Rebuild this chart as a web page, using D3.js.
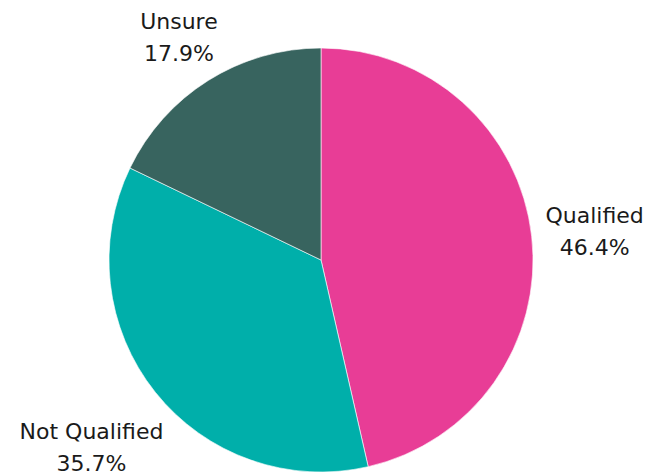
<!DOCTYPE html>
<html>
<head>
<meta charset="utf-8">
<script src="https://cdn.jsdelivr.net/npm/d3@7"></script>
<style>
  html, body { margin: 0; padding: 0; background: #ffffff; }
  svg { display: block; }
  text { font-family: "DejaVu Sans", "Noto Sans", sans-serif; }
</style>
</head>
<body>
<svg id="chart" width="664" height="473"></svg>
<script>
// Survey response counts
const categories = ["Qualified", "Not Qualified", "Unsure"];
const counts = [13, 10, 5];
const percentLabels = ["46.4%", "35.7%", "17.9%"];
const colors = ["#E83D96", "#00AFAA", "#38645F"];

const width = 664, height = 473;
const cx = 321, cy = 260, radius = 212;
const fontSize = 22, lineGap = 32;

const svg = d3.select("#chart");
const g = svg.append("g").attr("transform", `translate(${cx},${cy})`);

const color = d3.scaleOrdinal().domain(categories).range(colors);

const pie = d3.pie().sort(null).value(d => d.value);
const data = categories.map((c, i) => ({ name: c, value: counts[i], pct: percentLabels[i] }));
const arcs = pie(data);

const arc = d3.arc().innerRadius(0).outerRadius(radius);

g.selectAll("path.slice")
  .data(arcs)
  .join("path")
  .attr("class", "slice")
  .attr("d", arc)
  .attr("fill", d => color(d.data.name))
  .attr("stroke", "#ffffff")
  .attr("stroke-width", 0.6);

// Outside labels: pushed out along the slice mid-angle, with the text box
// offset outward by its own half extents.
const gap = 24, k = 0.8;
const extraDrop = { "Not Qualified": 26, "Unsure": -3 };
const labels = g.selectAll("g.label")
  .data(arcs)
  .join("g")
  .attr("class", "label");

labels.append("text")
  .attr("text-anchor", "middle")
  .attr("font-size", fontSize)
  .attr("fill", "#1a1a1a")
  .selectAll("tspan")
  .data(d => [d.data.name, d.data.pct])
  .join("tspan")
  .attr("x", 0)
  .attr("dy", (d, i) => i === 0 ? 0 : lineGap)
  .text(d => d);

labels.each(function(d) {
  const t = d3.select(this).select("text");
  const bb = t.node().getBBox();
  const hw = bb.width / 2, hh = bb.height / 2;
  const a = (d.startAngle + d.endAngle) / 2;
  const sx = Math.sin(a), sy = -Math.cos(a);
  const px = sx * (radius + gap) + sx * hw * k;
  const py = sy * (radius + gap) + sy * hh * k + (extraDrop[d.data.name] || 0);
  // center the two-line block vertically on (px, py)
  const by = bb.y + bb.height / 2;
  d3.select(this).attr("transform", `translate(${px},${py - by})`);
});
</script>
</body>
</html>
